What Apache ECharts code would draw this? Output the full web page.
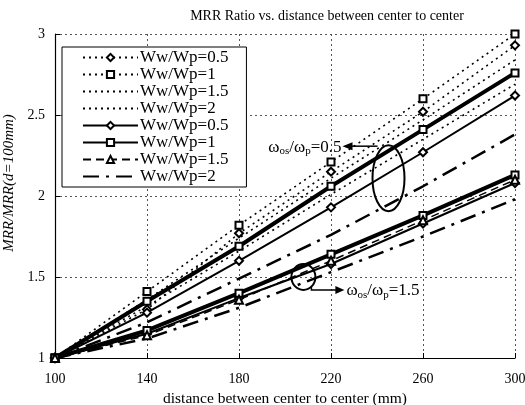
<!DOCTYPE html>
<html>
<head>
<meta charset="utf-8">
<script src="https://cdn.jsdelivr.net/npm/echarts@6/dist/echarts.min.js"></script>
<style>
  html, body { margin: 0; padding: 0; background: #fff; }
  #chart { width: 525px; height: 405px; }
</style>
</head>
<body>
<div id="chart"></div>
<script>
// distance between centers (mm)
var xValues = [100, 140, 180, 220, 260, 300];

// dotted set (upper group)
var dot05 = [1, 1.30, 1.77, 2.15, 2.52, 2.93];
var dot1  = [1, 1.41, 1.82, 2.21, 2.60, 3.00];
var dot15 = [1, 1.36, 1.74, 2.11, 2.47, 2.84];
var dot2  = [1, 1.32, 1.66, 2.01, 2.35, 2.69];

// solid set, wos/wp = 0.5 (upper group)
var upSol05 = [1, 1.28, 1.60, 1.93, 2.27, 2.62];
var upSol1  = [1, 1.35, 1.69, 2.06, 2.41, 2.76];
var upSol2  = [1, 1.22, 1.49, 1.76, 2.06, 2.38];

// solid set, wos/wp = 1.5 (lower group)
var lowSol05 = [1, 1.15, 1.37, 1.58, 1.83, 2.08];
var lowSol1  = [1, 1.17, 1.40, 1.64, 1.88, 2.13];
var lowSol15 = [1, 1.14, 1.36, 1.60, 1.85, 2.10];
var lowSol2  = [1, 1.12, 1.31, 1.53, 1.75, 1.98];

var legendNames = ['dot|0.5', 'dot|1', 'dot|1.5', 'dot|2', 'sol|0.5', 'sol|1', 'sol|1.5', 'sol|2'];
var noMarker = ['dot|1.5', 'dot|2', 'sol|2'];

function pairs(arr) {
  return xValues.map(function (x, i) { return [x, arr[i]]; });
}

var SERIF = '"Liberation Serif", "DejaVu Serif", serif';

function mk(name, arr, line, symbol, size) {
  return {
    name: name,
    type: 'line',
    data: pairs(arr),
    symbol: symbol || 'none',
    symbolSize: size || 7,
    showSymbol: !!symbol,
    lineStyle: Object.assign({ color: '#000' }, line),
    itemStyle: { color: '#000', borderColor: '#000', borderWidth: 1.2 },
    emphasis: { disabled: true },
    animation: false,
    z: 3
  };
}

var dotted = { width: 1.6, type: [2, 4] };

var series = [
  mk('dot|0.5', dot05, dotted, 'emptyDiamond', 8),
  mk('dot|1', dot1, dotted, 'emptyRect', 7),
  mk('dot|1.5', dot15, dotted),
  mk('dot|2', dot2, dotted),
  mk('sol|0.5', upSol05, { width: 2 }, 'emptyDiamond', 8),
  mk('sol|1', upSol1, { width: 4 }, 'emptyRect', 7),
  mk('sol|2', upSol2, { width: 2.5, type: [16, 7, 3, 7] }),
  mk('sol|0.5', lowSol05, { width: 2 }, 'emptyDiamond', 8),
  mk('sol|1', lowSol1, { width: 4 }, 'emptyRect', 7),
  mk('sol|1.5', lowSol15, { width: 1.5, type: [8, 5] }, 'emptyTriangle', 8),
  mk('sol|2', lowSol2, { width: 2.5, type: [16, 7, 3, 7] })
];

var chart = echarts.init(document.getElementById('chart'));

chart.setOption({
  backgroundColor: '#fff',
  animation: false,
  title: {
    text: 'MRR Ratio vs. distance between center to center',
    left: 322,
    textAlign: 'center',
    top: 4,
    textStyle: { fontFamily: SERIF, fontSize: 14, fontWeight: 'normal', color: '#000' }
  },
  grid: { left: 55, right: 10, top: 34, bottom: 47, outerBoundsMode: 'none', containLabel: false },
  legend: {
    data: legendNames.map(function (n) {
      return noMarker.indexOf(n) >= 0 ? { name: n, itemStyle: { opacity: 0 } } : { name: n };
    }),
    orient: 'vertical',
    left: 62,
    top: 47,
    backgroundColor: '#fff',
    borderColor: '#000',
    borderWidth: 1,
    padding: [2, 18, 2, 20],
    itemWidth: 55,
    itemHeight: 9,
    itemGap: 0,
    formatter: function (n) { return 'Ww/Wp=' + n.split('|')[1]; },
    textStyle: { fontFamily: SERIF, fontSize: 17, color: '#000', lineHeight: 14, padding: [0, 0, 0, -3] }
  },
  xAxis: {
    type: 'value',
    min: 100,
    max: 300,
    interval: 40,
    name: 'distance between center to center (mm)',
    nameLocation: 'middle',
    nameGap: 29,
    nameTextStyle: { fontFamily: SERIF, fontSize: 15.5, color: '#000' },
    axisLine: { lineStyle: { color: '#000', width: 1.2 } },
    axisTick: { inside: true, length: 5, lineStyle: { color: '#000' } },
    axisLabel: { fontFamily: SERIF, fontSize: 14, color: '#000', margin: 14 },
    splitLine: { lineStyle: { color: '#555', type: [2, 3], width: 1 } }
  },
  yAxis: {
    type: 'value',
    min: 1,
    max: 3,
    interval: 0.5,
    name: 'MRR/MRR(d=100mm)',
    nameLocation: 'middle',
    nameGap: 25,
    nameTextStyle: { fontFamily: SERIF, fontSize: 15, color: '#000', fontStyle: 'italic', padding: [0, 0, 0, 26] },
    axisLine: { show: true, lineStyle: { color: '#000', width: 1.2 } },
    axisTick: { show: true, inside: true, length: 5, lineStyle: { color: '#000' } },
    axisLabel: { fontFamily: SERIF, fontSize: 14, color: '#000', margin: 10 },
    splitLine: { lineStyle: { color: '#555', type: [2, 3], width: 1 } }
  },
  series: series
});

// annotations: ellipses around each group with arrow + label
var e1 = chart.convertToPixel({ gridIndex: 0 }, [245, 2.11]);
var e2 = chart.convertToPixel({ gridIndex: 0 }, [208, 1.50]);

var rich = {
  w: { fontFamily: SERIF, fontSize: 17, color: '#000' },
  s: { fontFamily: SERIF, fontSize: 11, color: '#000', verticalAlign: 'bottom', padding: [8, 0, 0, 0] }
};

chart.setOption({
  graphic: [
    { type: 'ellipse', shape: { cx: e1[0], cy: e1[1], rx: 16, ry: 33 },
      style: { fill: 'none', stroke: '#000', lineWidth: 2 }, z: 10 },
    { type: 'polyline', shape: { points: [[e1[0] - 11, e1[1] - 32], [e1[0] - 40, e1[1] - 32]] },
      style: { stroke: '#000', lineWidth: 1.5 }, z: 10 },
    { type: 'polygon', shape: { points: [[e1[0] - 46, e1[1] - 32], [e1[0] - 36, e1[1] - 36], [e1[0] - 36, e1[1] - 28]] },
      style: { fill: '#000' }, z: 10 },
    { type: 'text', x: e1[0] - 47, y: e1[1] - 31, z: 10,
      style: { text: '{w|ω}{s|os}{w|/ω}{s|p}{w|=0.5}', rich: rich, align: 'right', verticalAlign: 'middle' } },

    { type: 'ellipse', shape: { cx: e2[0], cy: e2[1], rx: 12, ry: 13 },
      style: { fill: 'none', stroke: '#000', lineWidth: 2 }, z: 10 },
    { type: 'polyline', shape: { points: [[e2[0] + 8, e2[1] + 10], [e2[0] + 8, e2[1] + 13], [e2[0] + 34, e2[1] + 13]] },
      style: { stroke: '#000', lineWidth: 1.5, fill: 'none' }, z: 10 },
    { type: 'polygon', shape: { points: [[e2[0] + 41, e2[1] + 13], [e2[0] + 32, e2[1] + 9], [e2[0] + 32, e2[1] + 17]] },
      style: { fill: '#000' }, z: 10 },
    { type: 'text', x: e2[0] + 43, y: e2[1] + 14, z: 10,
      style: { text: '{w|ω}{s|os}{w|/ω}{s|p}{w|=1.5}', rich: rich, align: 'left', verticalAlign: 'middle' } }
  ]
});
</script>
</body>
</html>
